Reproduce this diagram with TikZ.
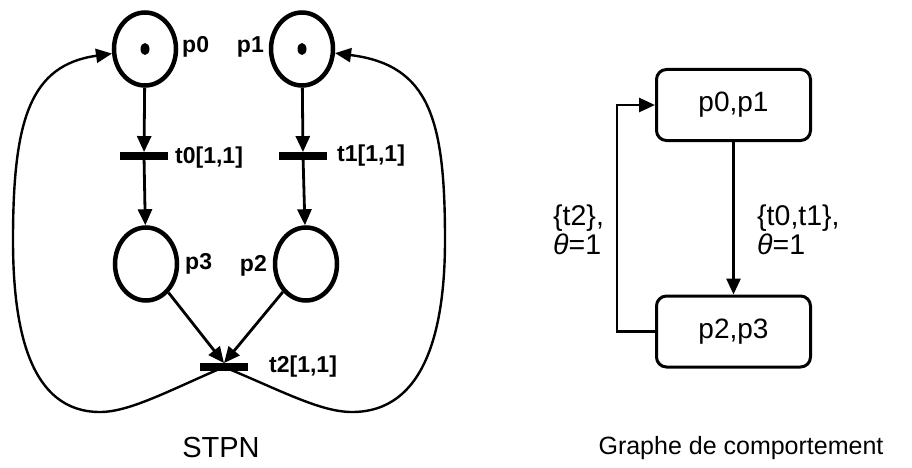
\documentclass[tikz,border=0pt]{standalone}
\usepackage{fontspec}
\setmainfont{Liberation Sans}
\usetikzlibrary{arrows.meta,shapes.geometric}
\begin{document}
\begin{tikzpicture}[x=1pt,y=-1pt,
  place/.style={ellipse,draw,line width=4.5pt,minimum width=62pt,minimum height=73pt,inner sep=0pt},
  bar/.style={rectangle,fill=black,minimum width=48pt,minimum height=7.5pt,inner sep=0pt},
  lbl/.style={font=\fontsize{23}{25}\selectfont\bfseries,inner sep=0pt},
  arc/.style={line width=2.8pt,-{Triangle[length=16pt,width=14pt]}},
  loop/.style={line width=2.4pt,-{Triangle[length=16pt,width=14pt]}},
  state/.style={draw,rounded corners=10pt,line width=3pt,minimum width=154pt,minimum height=71pt,font=\fontsize{28}{30}\selectfont},
  tok/.style={font=\fontsize{28.5}{31}\selectfont,inner sep=0pt,align=left}]
\useasboundingbox (0,0) rectangle (912,468);
% places
\node[place] (p0) at (145,49) {};
\node[place] (p1) at (302,49) {};
\node[place] (p3) at (146,264) {};
\node[place] (p2) at (306,264) {};
\fill (p0.center) ellipse [x radius=4.5pt,y radius=6pt];
\fill (p1.center) ellipse [x radius=4.5pt,y radius=6pt];
% transitions
\node[bar] (t0) at (144,156) {};
\node[bar] (t1) at (303,156) {};
\node[bar] (t2) at (224,367) {};
% labels
\node[lbl,anchor=west] (lp0) at (182,47) {p0};
\node[lbl,anchor=east] (lp1) at (264,47) {p1};
\node[lbl,anchor=west] (lt0) at (175,158) {t0[1,1]};
\node[lbl,anchor=west] (lt1) at (337,156) {t1[1,1]};
\node[lbl,anchor=west] (lp3) at (185,264) {p3};
\node[lbl,anchor=east] (lp2) at (267,266) {p2};
\node[lbl,anchor=west] (lt2) at (269,367) {t2[1,1]};
% arcs
\draw[arc] (p0) -- (t0);
\draw[arc] (t0) -- (p3);
\draw[arc] (p1) -- (t1);
\draw[arc] (t1) -- (p2);
\draw[arc] (p3) -- (t2.north);
\draw[arc] (p2) -- (t2.north);
\draw[loop] (t2.center) .. controls (170,390) and (130,412) .. (100,412)
  .. controls (30,412) and (13,330) .. (13,240)
  .. controls (13,120) and (30,65) .. (p0);
\draw[loop] (t2.center) .. controls (280,390) and (320,412) .. (352,412)
  .. controls (425,412) and (445,330) .. (445,240)
  .. controls (445,120) and (430,65) .. (p1);
\node[font=\fontsize{29}{30}\selectfont] (stpn) at (221,448) {STPN};
% behaviour graph
\node[state] (b1) at (733.5,105) {p0,p1};
\node[state] (b2) at (733.5,331.5) {p2,p3};
\draw[arc] (b1) -- (b2);
\draw[arc] (b2.west) -- ++(-38,0) |- (b1.west);
\node[tok,anchor=west] (l1) at (553,230) {\{t2\},\\[-2pt]\textit{θ}=1};
\node[tok,anchor=west] (l2) at (757,230) {\{t0,t1\},\\[-2pt]\textit{θ}=1};
\node[font=\fontsize{25}{30}\selectfont] (gc) at (741,448) {Graphe de comportement};
\end{tikzpicture}
\end{document}
